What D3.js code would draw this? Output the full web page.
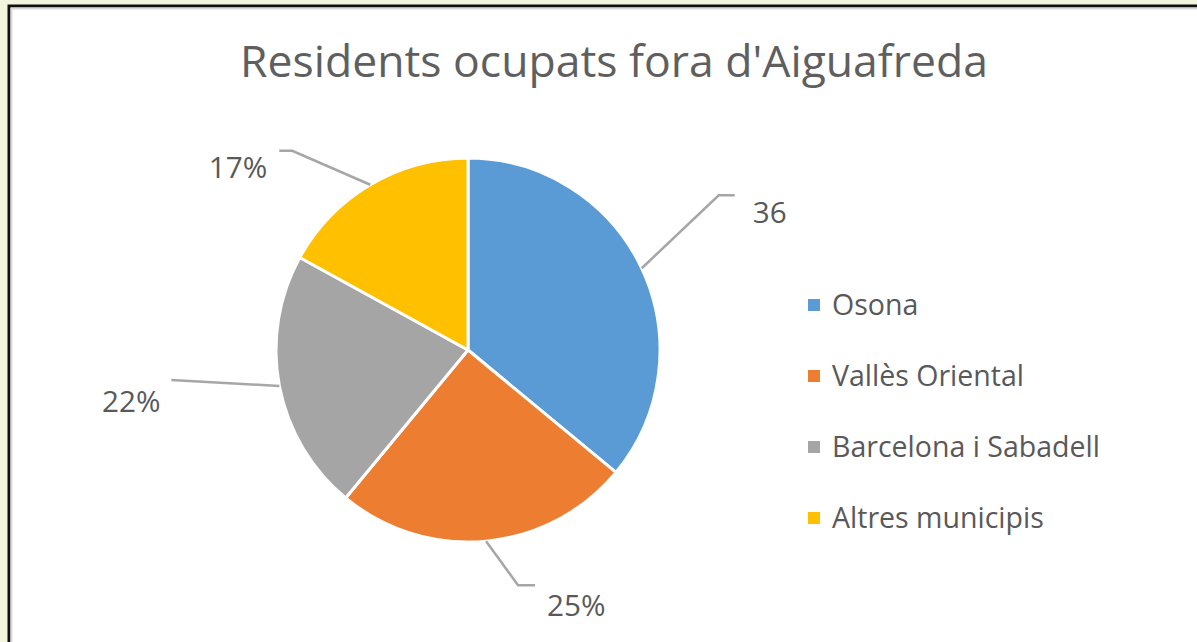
<!DOCTYPE html>
<html><head><meta charset="utf-8">
<script src="https://cdn.jsdelivr.net/npm/d3@7"></script>
<style>
html,body{margin:0;padding:0;background:#f3f5de;overflow:hidden}
svg{display:block}
</style></head>
<body>
<script>
const title = "Residents ocupats fora d'Aiguafreda";
const categories = ["Osona", "Vallès Oriental", "Barcelona i Sabadell", "Altres municipis"];
const values = [36, 25, 22, 17];
const labelTexts = ["36", "25%", "22%", "17%"];
const colors = ["#5B9BD5", "#ED7D31", "#A5A5A5", "#FFC000"];

// label layout: elbow offset from arc edge point, tail length, text gap, side
const labelLayout = [
  {ex: 77, ey: -73, tail: 16, side: 1, ty: 17, gap: 18},
  {ex: 32, ey: 44, tail: 17, side: 1, ty: 20, gap: 12},
  {ex: -108, ey: -6, tail: 0, side: -1, ty: 22, gap: 11},
  {ex: -78, ey: -34, tail: 13, side: -1, ty: 17, gap: 12}
];

const W = 1197, H = 642;
const svg = d3.select("body").append("svg").attr("width", W).attr("height", H);

// chart frame
svg.append("rect").attr("x", 9).attr("y", 6).attr("width", W + 20).attr("height", H + 20)
  .attr("fill", "#ffffff").attr("stroke", "#111").attr("stroke-width", 3);
svg.append("rect").attr("x", 11.5).attr("y", 8.5).attr("width", W + 20).attr("height", H + 20)
  .attr("fill", "none").attr("stroke", "#d9d9d9").attr("stroke-width", 2);

const FONT = "'Open Sans', 'Noto Sans', sans-serif";
const TXT = "#595959";

function fitWidth(sel, target) {
  const w = sel.node().getComputedTextLength();
  const fs = parseFloat(sel.attr("font-size"));
  sel.attr("font-size", (fs * target / w).toFixed(2));
}

// title
const t = svg.append("text").attr("x", 614).attr("y", 77).attr("text-anchor", "middle")
  .attr("font-family", FONT).attr("font-size", 38).attr("fill", "#5f5f5f").text(title);
fitWidth(t, 748);

// pie
const cx = 468, cy = 350, R = 192;
const g = svg.append("g").attr("transform", `translate(${cx},${cy})`);
const pie = d3.pie().sort(null).value(d => d)(values);
const arc = d3.arc().innerRadius(0).outerRadius(R);
g.selectAll("path.slice").data(pie).join("path").attr("class", "slice")
  .attr("d", arc).attr("fill", (d, i) => colors[i])
  .attr("stroke", "#fff").attr("stroke-width", 3).attr("stroke-linejoin", "round");

// legend
const ly = d3.scalePoint().domain(categories).range([305, 518]);
const leg = svg.append("g");
categories.forEach((c, i) => {
  leg.append("rect").attr("x", 808).attr("y", ly(c) - 6).attr("width", 12).attr("height", 12)
    .attr("fill", colors[i]);
  const tx = leg.append("text").attr("x", 832).attr("y", ly(c)).attr("dy", "0.36em")
    .attr("font-family", FONT).attr("font-size", 26).attr("fill", TXT).text(c);
  if (i === 2) fitWidth(tx, 268);
});
const fs = +leg.selectAll("text").filter((d, i) => i === 2).attr("font-size");
leg.selectAll("text").attr("font-size", fs);

// leader lines and labels
const edge = d3.arc().innerRadius(R).outerRadius(R);
pie.forEach((d, i) => {
  const L = labelLayout[i];
  const p0 = edge.centroid(d);
  const p1 = [p0[0] + L.ex, p0[1] + L.ey];
  const p2 = [p1[0] + L.side * L.tail, p1[1]];
  g.append("polyline").attr("points", [p0, p1, p2].map(p => p.join(",")).join(" "))
    .attr("fill", "none").attr("stroke", "#A6A6A6").attr("stroke-width", 2.5);
  g.append("text")
    .attr("x", p2[0] + L.side * L.gap).attr("y", p2[1] + L.ty)
    .attr("dy", "0.35em")
    .attr("text-anchor", L.side > 0 ? "start" : "end")
    .attr("font-family", FONT).attr("font-size", fs * 1.04).attr("fill", TXT).text(labelTexts[i]);
});
</script>
</body></html>
